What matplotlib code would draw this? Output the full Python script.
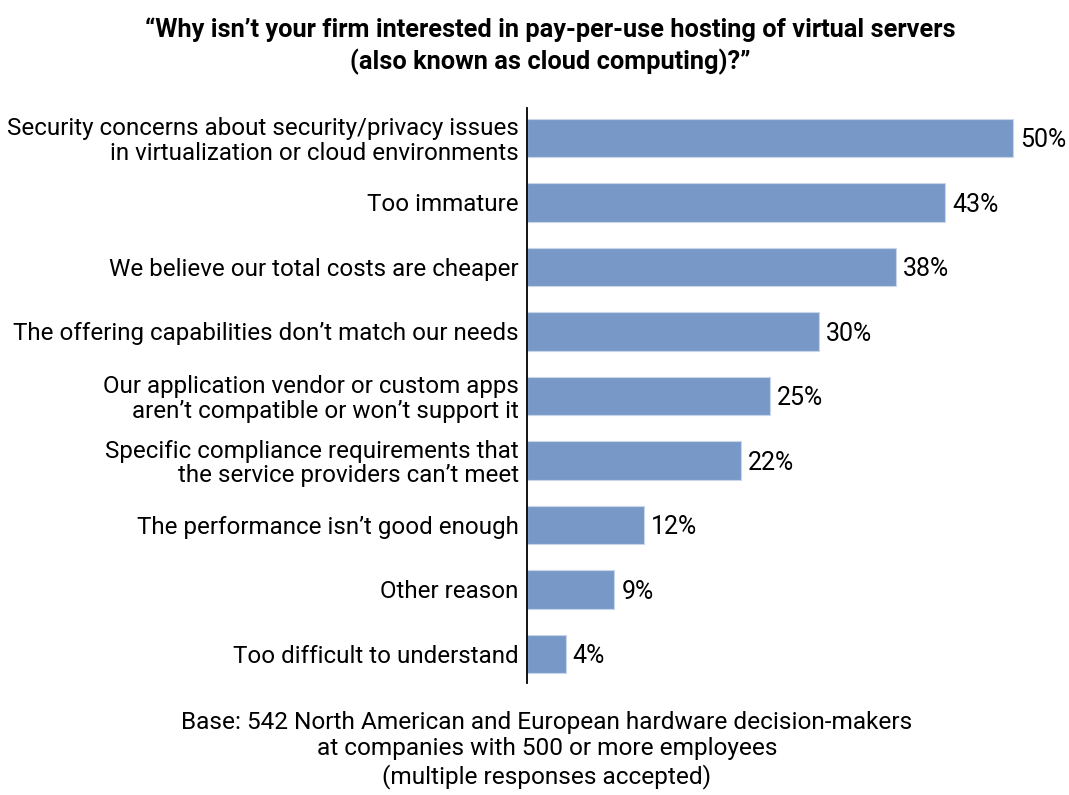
import matplotlib.pyplot as plt

# survey answers, top to bottom
reasons = [
    'Security concerns about security/privacy issues\nin virtualization or cloud environments',
    'Too immature',
    'We believe our total costs are cheaper',
    "The offering capabilities don\u2019t match our needs",
    'Our application vendor or custom apps\naren\u2019t compatible or won\u2019t support it',
    'Specific compliance requirements that\nthe service providers can\u2019t meet',
    'The performance isn\u2019t good enough',
    'Other reason',
    'Too difficult to understand',
]
shares = [50, 43, 38, 30, 25, 22, 12, 9, 4]

title = ('\u201cWhy isn\u2019t your firm interested in pay-per-use hosting of virtual servers\n'
         '(also known as cloud computing)?\u201d')
base_note = ('Base: 542 North American and European hardware decision-makers\n'
             'at companies with 500 or more employees\n'
             '(multiple responses accepted)')

plt.rcParams['font.family'] = ['Roboto', 'DejaVu Sans']

W, H = 1069, 795
fig = plt.figure(figsize=(W / 100, H / 100), dpi=100)
ax = fig.add_axes([527 / W, 1 - 683 / H, (W - 527) / W, (683 - 108) / H])

bar_col = '#7899c8'
pos = list(range(len(shares)))
ax.barh(pos, shares, height=0.6, color=bar_col, edgecolor='#c9d6ea', linewidth=0.8)
ax.set_xlim(0, 50 * (W - 527) / (1013 - 527))
ax.set_ylim(len(shares) - 1 + 0.45, -0.465)

# percentage next to each bar
for p, v in zip(pos, shares):
    ax.annotate(f'{v}%', (v, p), xytext=(5, 0), textcoords='offset points',
                va='center_baseline', ha='left', fontsize=18)

ax.set_yticks(pos)
ax.set_yticklabels(reasons, fontsize=17.4, linespacing=1.08)
ax.tick_params(axis='y', length=0, pad=6)
ax.set_xticks([])
for s in ['top', 'right', 'bottom']:
    ax.spines[s].set_visible(False)
ax.spines['left'].set_linewidth(1.3)

fig.text(550 / W, 1 - 46 / H, title, ha='center', va='center', fontsize=18.3,
         fontweight='bold', linespacing=1.3)
fig.text(547 / W, 1 - 750 / H, base_note, ha='center', va='center', fontsize=17.6,
         linespacing=1.2)

fig.savefig('out.png', dpi=100)
